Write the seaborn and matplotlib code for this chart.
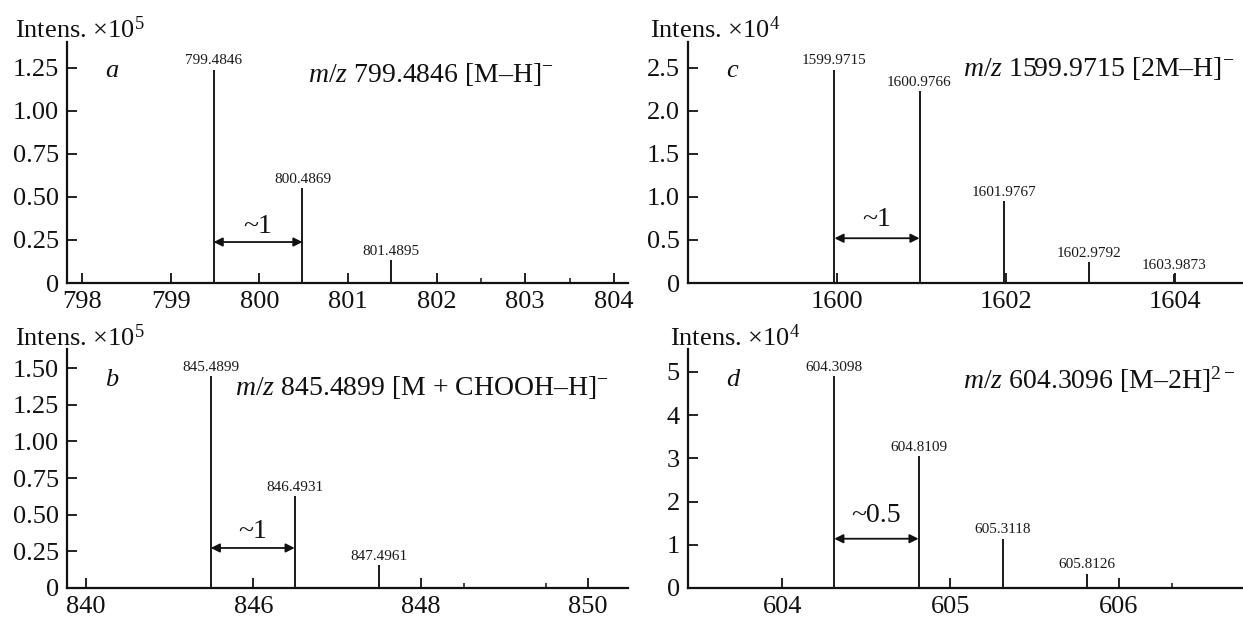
import matplotlib
matplotlib.use("Agg")
import matplotlib.pyplot as plt
import seaborn as sns
from matplotlib.ticker import FixedLocator, FixedFormatter

# ---------------- data ----------------
# panel a
mz_a = [799.4846, 800.4869, 801.4895]
int_a = [1.24, 0.554, 0.135]
xticks_a = [798, 799, 800, 801, 802, 803, 804]
xticklabels_a = ["798", "799", "800", "801", "802", "803", "804"]
xminor_a = [802.5, 803.5]
yticks_a = [0, 0.25, 0.50, 0.75, 1.00, 1.25]
yticklabels_a = ["0", "0.25", "0.50", "0.75", "1.00", "1.25"]
title_a = r"$\mathit{m/z}$ 799.4846 [M–H]$^{-}$"
ylabel_a = r"Intens. ×10$^{5}$"

# panel b
mz_b = [845.4899, 846.4931, 847.4961]
int_b = [1.443, 0.625, 0.155]
xticks_b = [844, 846, 848, 850]
xticklabels_b = ["840", "846", "848", "850"]
xminor_b = [848.52, 849.5]
yticks_b = [0, 0.25, 0.50, 0.75, 1.00, 1.25, 1.50]
yticklabels_b = ["0", "0.25", "0.50", "0.75", "1.00", "1.25", "1.50"]
title_b = r"$\mathit{m/z}$ 845.4899 [M + CHOOH–H]$^{-}$"
ylabel_b = r"Intens. ×10$^{5}$"

# panel c
mz_c = [1599.9715, 1600.9766, 1601.9767, 1602.9792, 1603.9873]
int_c = [2.48, 2.23, 0.954, 0.247, 0.104]
xticks_c = [1600, 1602, 1604]
xticklabels_c = ["1600", "1602", "1604"]
xminor_c = []
yticks_c = [0, 0.5, 1.0, 1.5, 2.0, 2.5]
yticklabels_c = ["0", "0.5", "1.0", "1.5", "2.0", "2.5"]
title_c = r"$\mathit{m/z}$ 1599.9715 [2M–H]$^{-}$"
ylabel_c = r"Intens. ×10$^{4}$"

# panel d
mz_d = [604.3098, 604.8109, 605.3118, 605.8126]
int_d = [4.90, 3.05, 1.144, 0.335]
xticks_d = [604, 605, 606]
xticklabels_d = ["604", "605", "606"]
xminor_d = [606.32]
yticks_d = [0, 1, 2, 3, 4, 5]
yticklabels_d = ["0", "1", "2", "3", "4", "5"]
title_d = r"$\mathit{m/z}$ 604.3096 [M–2H]$^{2-}$"
ylabel_d = r"Intens. ×10$^{4}$"

letters = ["a", "b", "c", "d"]
spacing_labels = ["~1", "~1", "~1", "~0.5"]
arrow_y = [0.238, 0.273, 0.52, 1.14]
spacing_text_y = [0.33, 0.386, 0.74, 1.67]

# ---------------- style ----------------
sns.set_theme(style="ticks")
plt.rcParams["font.family"] = ["Liberation Serif", "DejaVu Serif"]
plt.rcParams["mathtext.fontset"] = "custom"
plt.rcParams["mathtext.rm"] = "Liberation Serif"
plt.rcParams["mathtext.it"] = "Liberation Serif:italic"
plt.rcParams["mathtext.bf"] = "Liberation Serif:bold"

W, H = 1243, 622
fig = plt.figure(figsize=(W / 100, H / 100), dpi=100)

def frac_rect(left, top, right, bottom):
    return [left / W, 1 - bottom / H, (right - left) / W, (bottom - top) / H]

panels = [
    dict(rect=frac_rect(67, 42, 628, 283), mz=mz_a, inten=int_a, xlim=(797.83, 804.16), ylim=(0, 1.40),
         xt=xticks_a, xtl=xticklabels_a, xm=xminor_a, yt=yticks_a, ytl=yticklabels_a,
         title=title_a, tpos=(0.43, 0.867), ylab=ylabel_a, ylx=-0.0927, lpos=(0.08, 0.88)),
    dict(rect=frac_rect(67, 349, 628, 588), mz=mz_b, inten=int_b, xlim=(843.77, 850.48), ylim=(0, 1.63),
         xt=xticks_b, xtl=xticklabels_b, xm=xminor_b, yt=yticks_b, ytl=yticklabels_b,
         title=title_b, tpos=(0.30, 0.84), ylab=ylabel_b, ylx=-0.0927, lpos=(0.08, 0.87)),
    dict(rect=frac_rect(688, 42, 1243, 283), mz=mz_c, inten=int_c, xlim=(1598.24, 1604.8), ylim=(0, 2.8),
         xt=xticks_c, xtl=xticklabels_c, xm=xminor_c, yt=yticks_c, ytl=yticklabels_c,
         title=title_c, tpos=(0.495, 0.89), ylab=ylabel_c, ylx=-0.0685, lpos=(0.08, 0.88)),
    dict(rect=frac_rect(688, 349, 1243, 588), mz=mz_d, inten=int_d, xlim=(603.44, 606.74), ylim=(0, 5.53),
         xt=xticks_d, xtl=xticklabels_d, xm=xminor_d, yt=yticks_d, ytl=yticklabels_d,
         title=title_d, tpos=(0.495, 0.87), ylab=ylabel_d, ylx=-0.0324, lpos=(0.08, 0.87)),
]

for i, p in enumerate(panels):
    ax = fig.add_axes(p["rect"])
    ax.set_facecolor("white")
    # stems
    ax.vlines(p["mz"], 0, p["inten"], colors="#1a1a1a", lw=1.4, zorder=3)
    for x, y in zip(p["mz"], p["inten"]):
        ax.annotate(f"{x:.4f}", xy=(x, y), xytext=(0, 1.5), textcoords="offset points",
                    ha="center", va="bottom", fontsize=11, color="#1a1a1a")
    ax.set_xlim(*p["xlim"])
    ax.set_ylim(*p["ylim"])
    ax.xaxis.set_major_locator(FixedLocator(p["xt"]))
    ax.xaxis.set_major_formatter(FixedFormatter(p["xtl"]))
    ax.xaxis.set_minor_locator(FixedLocator(p["xm"]))
    ax.yaxis.set_major_locator(FixedLocator(p["yt"]))
    ax.yaxis.set_major_formatter(FixedFormatter(p["ytl"]))
    ax.yaxis.set_minor_locator(FixedLocator([]))
    sns.despine(ax=ax)
    for s in ("left", "bottom"):
        ax.spines[s].set_linewidth(1.6)
        ax.spines[s].set_color("#111111")
    ax.tick_params(axis="both", which="major", direction="in", length=7, width=1.3,
                   color="#111111", labelsize=19, labelcolor="#111111")
    ax.tick_params(axis="x", which="major", pad=6)
    ax.tick_params(axis="y", which="major", pad=6)
    ax.tick_params(axis="x", which="minor", direction="in", length=3.5, width=1.1, color="#111111")
    # labels / annotations
    ax.text(p["ylx"], 1.015, p["ylab"], transform=ax.transAxes, ha="left", va="baseline",
            fontsize=19, color="#111111")
    ax.text(p["lpos"][0], p["lpos"][1], letters[i], transform=ax.transAxes, ha="center",
            va="center", fontsize=19, style="italic", color="#111111")
    ax.text(p["tpos"][0], p["tpos"][1], p["title"], transform=ax.transAxes, ha="left",
            va="center", fontsize=20, color="#111111")
    x1, x2 = p["mz"][0], p["mz"][1]
    ax.annotate("", xy=(x2, arrow_y[i]), xytext=(x1, arrow_y[i]),
                arrowprops=dict(arrowstyle="<|-|>", color="#111111", lw=1.3,
                                mutation_scale=13, shrinkA=0, shrinkB=0))
    ax.text((x1 + x2) / 2, spacing_text_y[i], spacing_labels[i], ha="center", va="center",
            fontsize=20, color="#111111")

fig.savefig("out.png", dpi=100, facecolor="white")
